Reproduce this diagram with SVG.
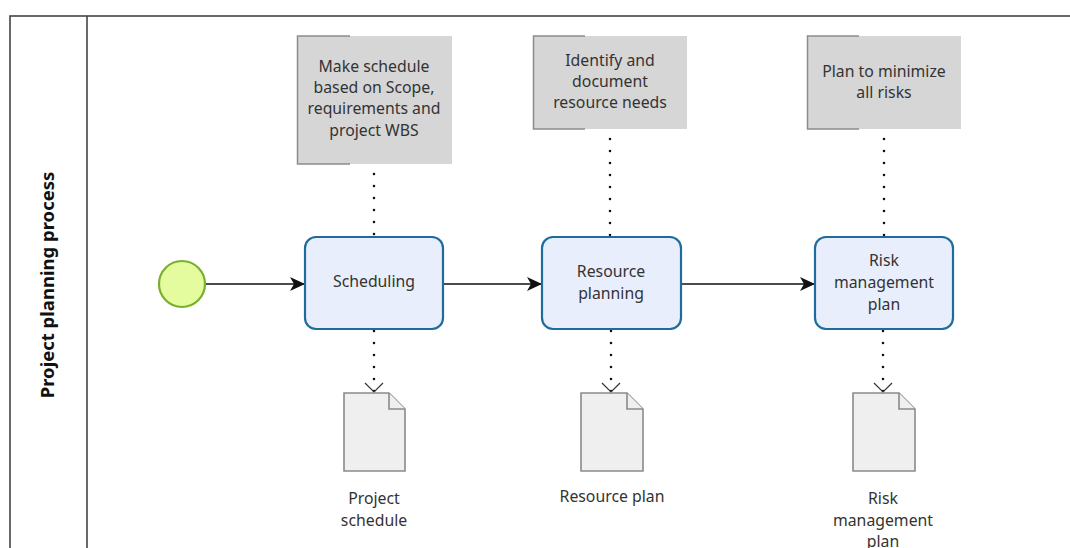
<svg xmlns="http://www.w3.org/2000/svg" width="1070" height="548" viewBox="0 0 1070 548">
  <defs>
    <style>
      text { font-family: "Noto Sans", "Open Sans", "Liberation Sans", sans-serif; font-size: 15.8px; fill: #333; text-anchor: middle; }
      .pool { fill: #fff; stroke: #444; stroke-width: 1.6; }
      .task { fill: #e9eefc; stroke: #1f6c9c; stroke-width: 2.2; }
      .start { fill: #e4fb9e; stroke: #78b02e; stroke-width: 2.2; }
      .note { fill: #d6d6d6; }
      .bracket { fill: none; stroke: #8c8c8c; stroke-width: 1.5; }
      .doc { fill: #efefef; stroke: #8a8a8a; stroke-width: 1.6; }
      .flow { fill: none; stroke: #111; stroke-width: 1.5; }
      .assoc { fill: none; stroke: #111; stroke-width: 2.6; stroke-dasharray: 0 12; stroke-linecap: round; }
      .vhead { fill: none; stroke: #333; stroke-width: 1.2; }
      .title { font-weight: bold; font-size: 18.5px; fill: #111; }
    </style>
    <marker id="arrow" viewBox="0 0 15 14" refX="14" refY="7" markerWidth="15" markerHeight="14" markerUnits="userSpaceOnUse" orient="auto">
      <path d="M0,0 L15,7 L0,14 L4,7 Z" fill="#111"/>
    </marker>
  </defs>

  <!-- pool with its single lane -->
  <g id="pool">
    <rect class="pool" x="10" y="16" width="1080" height="560"/>
    <line x1="87" y1="16" x2="87" y2="548" stroke="#444" stroke-width="1.6"/>
    <text class="title" transform="translate(54,285) rotate(-90)">Project planning process</text>
  </g>

  <!-- connectors -->
  <g id="connectors">
    <path class="flow" d="M205,284 H304" marker-end="url(#arrow)"/>
    <path class="flow" d="M443,284 H541" marker-end="url(#arrow)"/>
    <path class="flow" d="M681,284 H814" marker-end="url(#arrow)"/>

    <path class="assoc" d="M374,162 V237"/>
    <path class="assoc" d="M610,127 V237"/>
    <path class="assoc" d="M884,127 V237"/>

    <path class="assoc" d="M374,331 V393"/>
    <path class="assoc" d="M611,331 V393"/>
    <path class="assoc" d="M883,331 V393"/>
    <path class="vhead" d="M365,383 L374,392 L383,383"/>
    <path class="vhead" d="M602,383 L611,392 L620,383"/>
    <path class="vhead" d="M874,383 L883,392 L892,383"/>
  </g>

  <g id="start-event">
    <circle class="start" cx="182" cy="284" r="23"/>
  </g>

  <g id="task-scheduling">
    <rect class="task" x="305" y="237" width="138" height="92" rx="11"/>
    <text x="374" y="287">Scheduling</text>
  </g>

  <g id="task-resource-planning">
    <rect class="task" x="542" y="237" width="139" height="92" rx="11"/>
    <text x="611" y="277">Resource</text>
    <text x="611" y="299">planning</text>
  </g>

  <g id="task-risk-plan">
    <rect class="task" x="815" y="237" width="138" height="92" rx="11"/>
    <text x="884" y="266">Risk</text>
    <text x="884" y="288">management</text>
    <text x="884" y="310">plan</text>
  </g>

  <g id="note-schedule">
    <rect class="note" x="297" y="36" width="155" height="128"/>
    <path class="bracket" d="M350,36 H297.5 V164 H350"/>
    <text x="374" y="72">Make schedule</text>
    <text x="374" y="93">based on Scope,</text>
    <text x="374" y="114">requirements and</text>
    <text x="374" y="136">project WBS</text>
  </g>

  <g id="note-resources">
    <rect class="note" x="533" y="36" width="154" height="93"/>
    <path class="bracket" d="M585,36 H533.5 V129 H585"/>
    <text x="610" y="66">Identify and</text>
    <text x="610" y="87">document</text>
    <text x="610" y="108">resource needs</text>
  </g>

  <g id="note-risks">
    <rect class="note" x="807" y="36" width="154" height="93"/>
    <path class="bracket" d="M859,36 H807.5 V129 H859"/>
    <text x="884" y="77">Plan to minimize</text>
    <text x="884" y="98">all risks</text>
  </g>

  <g id="doc-project-schedule">
    <path class="doc" d="M344,393 H389 L405,409 V471 H344 Z"/>
    <path class="doc" d="M389,393 V409 H405" fill="none"/>
    <text x="374" y="504">Project</text>
    <text x="374" y="526">schedule</text>
  </g>

  <g id="doc-resource-plan">
    <path class="doc" d="M581,393 H627 L643,409 V471 H581 Z"/>
    <path class="doc" d="M627,393 V409 H643" fill="none"/>
    <text x="612" y="502">Resource plan</text>
  </g>

  <g id="doc-risk-plan">
    <path class="doc" d="M853,393 H899 L915,409 V471 H853 Z"/>
    <path class="doc" d="M899,393 V409 H915" fill="none"/>
    <text x="883" y="504">Risk</text>
    <text x="883" y="526">management</text>
    <text x="883" y="547">plan</text>
  </g>
</svg>
